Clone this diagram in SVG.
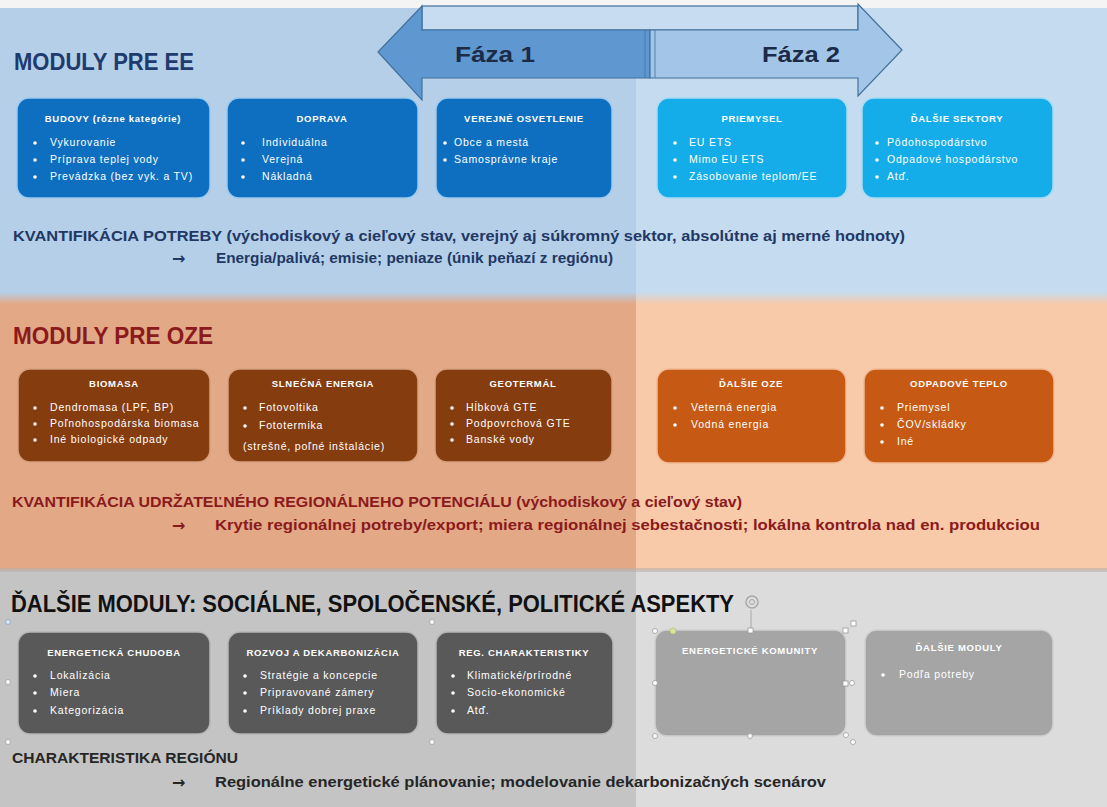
<svg xmlns="http://www.w3.org/2000/svg" width="1107" height="807" viewBox="0 0 1107 807">
<defs>
<style>
text{font-family:"Liberation Sans","DejaVu Sans",sans-serif}
.bt{fill:#fff;font-size:9.5px;font-weight:bold;text-anchor:middle;letter-spacing:0.7px}
.bl{fill:#fff;font-size:10.5px;letter-spacing:0.8px}
.dot{fill:#fff}
.ar{font-family:"DejaVu Sans",sans-serif;font-size:16px;font-weight:bold}
.ee1{fill:#0e6fc1;stroke:#9cc9ee;stroke-width:1.5}
.ee2{fill:#14ade9;stroke:#a8daf4;stroke-width:1.5}
.oz1{fill:#853c0f;stroke:#d8a17e;stroke-width:1.5}
.oz2{fill:#c65a14;stroke:#f2b995;stroke-width:1.5}
.gr1{fill:#595959;stroke:#b5b5b5;stroke-width:1.5}
.gr2{fill:#a5a5a5;stroke:#cfcfcf;stroke-width:1.5}
.h{font-weight:bold}
.hd{fill:#fff;stroke:#9a9a9a;stroke-width:0.8}
</style>
<linearGradient id="bo" x1="0" y1="0" x2="0" y2="1"><stop offset="0" stop-color="#b5cfe9"/><stop offset="1" stop-color="#e3a886"/></linearGradient>
<linearGradient id="bo2" x1="0" y1="0" x2="0" y2="1"><stop offset="0" stop-color="#c5dbef"/><stop offset="1" stop-color="#f8caa9"/></linearGradient>
</defs>
<g id="background">
<rect x="0" y="0" width="1107" height="807" fill="#f4f4f4"/>
<rect x="0" y="8" width="636" height="288" fill="#b5cfe9"/>
<rect x="636" y="8" width="471" height="288" fill="#c5dbef"/>
<rect x="0" y="292" width="636" height="12" fill="url(#bo)"/>
<rect x="636" y="292" width="471" height="12" fill="url(#bo2)"/>
<rect x="0" y="304" width="636" height="266" fill="#e3a886"/>
<rect x="636" y="304" width="471" height="266" fill="#f8caa9"/>
<rect x="0" y="570" width="636" height="237" fill="#c4c4c4"/>
<rect x="636" y="570" width="471" height="237" fill="#dcdcdc"/>
<rect x="0" y="568" width="1107" height="4" fill="#b9b1ab" opacity="0.6"/>
</g>
<g id="phase-arrow">
<rect x="422" y="6" width="436" height="24" fill="#c7dcf0" stroke="#41719c" stroke-width="1.2"/>
<polygon points="378,52 422,6 422,30 650,30 650,78 422,78 422,100" fill="#5f98d1" stroke="#41719c" stroke-width="1.2"/>
<polygon points="902,50 858,4 858,30 650,30 650,78 858,78 858,96" fill="#a3c6e8" stroke="#41719c" stroke-width="1.2"/>
<line x1="645" y1="30" x2="645" y2="78" stroke="#41719c" stroke-width="0.8"/>
<line x1="655" y1="30" x2="655" y2="78" stroke="#41719c" stroke-width="0.8"/>
<text x="455" y="62" font-size="22" class="h" fill="#1c2b47" textLength="80" lengthAdjust="spacingAndGlyphs">Fáza 1</text>
<text x="762" y="62" font-size="22" class="h" fill="#1c2b47" textLength="78" lengthAdjust="spacingAndGlyphs">Fáza 2</text>
</g>
<g id="section-ee">
<text x="14" y="70" font-size="23" class="h" fill="#1f3b6e" textLength="180" lengthAdjust="spacingAndGlyphs">MODULY PRE EE</text>
<text x="13" y="241" font-size="15" class="h" fill="#1f3864" textLength="892" lengthAdjust="spacingAndGlyphs">KVANTIFIKÁCIA POTREBY (východiskový a cieľový stav, verejný aj súkromný sektor, absolútne aj merné hodnoty)</text>
<text x="172" y="264" class="ar" fill="#1f3864">→</text>
<text x="216" y="263" font-size="15" class="h" fill="#1f3864" textLength="397" lengthAdjust="spacingAndGlyphs">Energia/palivá; emisie; peniaze (únik peňazí z regiónu)</text>
</g>
<g id="node-budovy">
<rect x="17" y="98" width="193" height="100" rx="12" class="ee1"/>
<text x="113" y="122" class="bt">BUDOVY (rôzne kategórie)</text>
<circle cx="35" cy="143" r="1.8" class="dot"/><text x="50" y="146" class="bl">Vykurovanie</text>
<circle cx="35" cy="160" r="1.8" class="dot"/><text x="50" y="163" class="bl">Príprava teplej vody</text>
<circle cx="35" cy="177" r="1.8" class="dot"/><text x="50" y="180" class="bl">Prevádzka (bez vyk. a TV)</text>
</g>
<g id="node-doprava">
<rect x="227" y="98" width="191" height="100" rx="12" class="ee1"/>
<text x="322" y="122" class="bt">DOPRAVA</text>
<circle cx="243" cy="143" r="1.8" class="dot"/><text x="262" y="146" class="bl">Individuálna</text>
<circle cx="243" cy="160" r="1.8" class="dot"/><text x="262" y="163" class="bl">Verejná</text>
<circle cx="243" cy="177" r="1.8" class="dot"/><text x="262" y="180" class="bl">Nákladná</text>
</g>
<g id="node-osvetlenie">
<rect x="436" y="98" width="176" height="100" rx="12" class="ee1"/>
<text x="524" y="122" class="bt">VEREJNÉ OSVETLENIE</text>
<circle cx="445" cy="143" r="1.8" class="dot"/><text x="454" y="146" class="bl">Obce a mestá</text>
<circle cx="445" cy="160" r="1.8" class="dot"/><text x="454" y="163" class="bl">Samosprávne kraje</text>
</g>
<g id="node-priemysel">
<rect x="657" y="98" width="190" height="100" rx="12" class="ee2"/>
<text x="752" y="122" class="bt">PRIEMYSEL</text>
<circle cx="675" cy="143" r="1.8" class="dot"/><text x="689" y="146" class="bl">EU ETS</text>
<circle cx="675" cy="160" r="1.8" class="dot"/><text x="689" y="163" class="bl">Mimo EU ETS</text>
<circle cx="675" cy="177" r="1.8" class="dot"/><text x="689" y="180" class="bl">Zásobovanie teplom/EE</text>
</g>
<g id="node-dalsie-sektory">
<rect x="862" y="98" width="191" height="100" rx="12" class="ee2"/>
<text x="957" y="122" class="bt">ĎALŠIE SEKTORY</text>
<circle cx="877" cy="143" r="1.8" class="dot"/><text x="887" y="146" class="bl">Pôdohospodárstvo</text>
<circle cx="877" cy="160" r="1.8" class="dot"/><text x="887" y="163" class="bl">Odpadové hospodárstvo</text>
<circle cx="877" cy="177" r="1.8" class="dot"/><text x="887" y="180" class="bl">Atď.</text>
</g>
<g id="section-oze">
<text x="13" y="344" font-size="23" class="h" fill="#8b1a1c" textLength="200" lengthAdjust="spacingAndGlyphs">MODULY PRE OZE</text>
<text x="12" y="507" font-size="15" class="h" fill="#8b1a1c" textLength="730" lengthAdjust="spacingAndGlyphs">KVANTIFIKÁCIA UDRŽATEĽNÉHO REGIONÁLNEHO POTENCIÁLU (východiskový a cieľový stav)</text>
<text x="172" y="531" class="ar" fill="#8b1a1c">→</text>
<text x="215" y="530" font-size="15" class="h" fill="#8b1a1c" textLength="825" lengthAdjust="spacingAndGlyphs">Krytie regionálnej potreby/export; miera regionálnej sebestačnosti; lokálna kontrola nad en. produkciou</text>
</g>
<g id="node-biomasa">
<rect x="18" y="369" width="192" height="93" rx="12" class="oz1"/>
<text x="114" y="387" class="bt">BIOMASA</text>
<circle cx="35" cy="408" r="1.8" class="dot"/><text x="50" y="411" class="bl">Dendromasa (LPF, BP)</text>
<circle cx="35" cy="424" r="1.8" class="dot"/><text x="50" y="427" class="bl">Poľnohospodárska biomasa</text>
<circle cx="35" cy="440" r="1.8" class="dot"/><text x="50" y="443" class="bl">Iné biologické odpady</text>
</g>
<g id="node-slnecna">
<rect x="228" y="369" width="190" height="93" rx="12" class="oz1"/>
<text x="323" y="387" class="bt">SLNEČNÁ ENERGIA</text>
<circle cx="245" cy="408" r="1.8" class="dot"/><text x="259" y="411" class="bl">Fotovoltika</text>
<circle cx="245" cy="426" r="1.8" class="dot"/><text x="259" y="429" class="bl">Fototermika</text>
<text x="243" y="450" class="bl">(strešné, poľné inštalácie)</text>
</g>
<g id="node-geotermal">
<rect x="435" y="369" width="177" height="93" rx="12" class="oz1"/>
<text x="523" y="387" class="bt">GEOTERMÁL</text>
<circle cx="452" cy="408" r="1.8" class="dot"/><text x="466" y="411" class="bl">Hĺbková GTE</text>
<circle cx="452" cy="424" r="1.8" class="dot"/><text x="466" y="427" class="bl">Podpovrchová GTE</text>
<circle cx="452" cy="440" r="1.8" class="dot"/><text x="466" y="443" class="bl">Banské vody</text>
</g>
<g id="node-dalsie-oze">
<rect x="657" y="369" width="189" height="94" rx="12" class="oz2"/>
<text x="751" y="387" class="bt">ĎALŠIE OZE</text>
<circle cx="675" cy="408" r="1.8" class="dot"/><text x="691" y="411" class="bl">Veterná energia</text>
<circle cx="675" cy="425" r="1.8" class="dot"/><text x="691" y="428" class="bl">Vodná energia</text>
</g>
<g id="node-odpadove-teplo">
<rect x="864" y="369" width="190" height="94" rx="12" class="oz2"/>
<text x="959" y="387" class="bt">ODPADOVÉ TEPLO</text>
<circle cx="882" cy="408" r="1.8" class="dot"/><text x="897" y="411" class="bl">Priemysel</text>
<circle cx="882" cy="425" r="1.8" class="dot"/><text x="897" y="428" class="bl">ČOV/skládky</text>
<circle cx="882" cy="442" r="1.8" class="dot"/><text x="897" y="445" class="bl">Iné</text>
</g>
<g id="section-dalsie">
<text x="11" y="612" font-size="24" class="h" fill="#111111" textLength="723" lengthAdjust="spacingAndGlyphs">ĎALŠIE MODULY: SOCIÁLNE, SPOLOČENSKÉ, POLITICKÉ ASPEKTY</text>
<text x="12" y="763" font-size="15" class="h" fill="#262626" textLength="226" lengthAdjust="spacingAndGlyphs">CHARAKTERISTIKA REGIÓNU</text>
<text x="172" y="788" class="ar" fill="#262626">→</text>
<text x="215" y="787" font-size="15" class="h" fill="#262626" textLength="611" lengthAdjust="spacingAndGlyphs">Regionálne energetické plánovanie; modelovanie dekarbonizačných scenárov</text>
</g>
<g id="node-chudoba">
<rect x="18" y="632" width="192" height="102" rx="12" class="gr1"/>
<text x="114" y="656" class="bt">ENERGETICKÁ CHUDOBA</text>
<circle cx="35" cy="676" r="1.8" class="dot"/><text x="50" y="679" class="bl">Lokalizácia</text>
<circle cx="35" cy="693" r="1.8" class="dot"/><text x="50" y="696" class="bl">Miera</text>
<circle cx="35" cy="711" r="1.8" class="dot"/><text x="50" y="714" class="bl">Kategorizácia</text>
</g>
<g id="node-rozvoj">
<rect x="228" y="632" width="190" height="102" rx="12" class="gr1"/>
<text x="323" y="656" class="bt">ROZVOJ A DEKARBONIZÁCIA</text>
<circle cx="245" cy="676" r="1.8" class="dot"/><text x="260" y="679" class="bl">Stratégie a koncepcie</text>
<circle cx="245" cy="693" r="1.8" class="dot"/><text x="260" y="696" class="bl">Pripravované zámery</text>
<circle cx="245" cy="711" r="1.8" class="dot"/><text x="260" y="714" class="bl">Príklady dobrej praxe</text>
</g>
<g id="node-reg-char">
<rect x="436" y="632" width="177" height="102" rx="12" class="gr1"/>
<text x="524" y="656" class="bt">REG. CHARAKTERISTIKY</text>
<circle cx="453" cy="676" r="1.8" class="dot"/><text x="467" y="679" class="bl">Klimatické/prírodné</text>
<circle cx="453" cy="693" r="1.8" class="dot"/><text x="467" y="696" class="bl">Socio-ekonomické</text>
<circle cx="453" cy="711" r="1.8" class="dot"/><text x="467" y="714" class="bl">Atď.</text>
</g>
<g id="node-komunity">
<rect x="655" y="630" width="191" height="106" rx="12" class="gr2"/>
<text x="750" y="654" class="bt">ENERGETICKÉ KOMUNITY</text>
</g>
<g id="node-dalsie-moduly">
<rect x="865" y="630" width="188" height="106" rx="12" class="gr2"/>
<text x="959" y="651" class="bt">ĎALŠIE MODULY</text>
<circle cx="883" cy="675" r="1.8" class="dot"/><text x="899" y="678" class="bl">Podľa potreby</text>
</g>
<g id="selection-handles">
<line x1="751" y1="610" x2="751" y2="630" stroke="#9a9a9a" stroke-width="0.8"/>
<circle cx="752" cy="602" r="6" fill="none" stroke="#a8a8a8" stroke-width="1.5"/>
<circle cx="752" cy="602" r="2.5" fill="none" stroke="#a8a8a8" stroke-width="1"/>
<circle cx="655" cy="631" r="2.5" class="hd"/>
<circle cx="673" cy="631" r="3" fill="#d8e6a0" stroke="#b4c46a" stroke-width="0.8"/>
<rect x="748" y="628" width="5" height="5" class="hd"/>
<rect x="843" y="628" width="5" height="5" class="hd"/>
<rect x="851" y="621" width="5" height="5" class="hd"/>
<circle cx="655" cy="683" r="2.5" class="hd"/>
<rect x="843" y="681" width="5" height="5" class="hd"/>
<circle cx="852" cy="683" r="2.5" class="hd"/>
<circle cx="655" cy="736" r="2.5" class="hd"/>
<circle cx="750" cy="736" r="2.5" class="hd"/>
<circle cx="846" cy="735" r="2.5" class="hd"/>
<circle cx="853" cy="742" r="2.5" class="hd"/>
<circle cx="8" cy="622" r="2.5" fill="#d6e4f2" stroke="#8aa6c4" stroke-width="0.8"/>
<circle cx="8" cy="682" r="2.5" class="hd"/>
<circle cx="8" cy="742" r="2.5" class="hd"/>
<circle cx="432" cy="622" r="2.5" class="hd"/>
<circle cx="432" cy="742" r="2.5" class="hd"/>
</g>
</svg>
